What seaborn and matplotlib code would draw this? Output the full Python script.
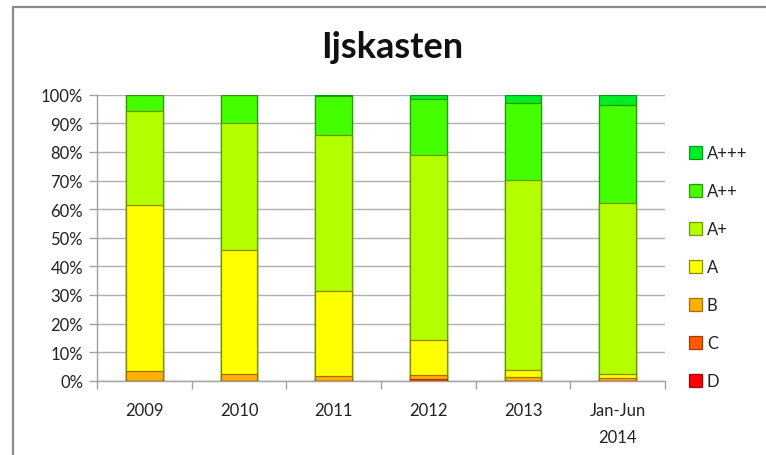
import matplotlib
matplotlib.use("Agg")
import matplotlib.pyplot as plt
import seaborn as sns
import numpy as np
import pandas as pd
from matplotlib.patches import Rectangle
from matplotlib.ticker import FixedLocator

periods = ["2009", "2010", "2011", "2012", "2013", "Jan-Jun\n2014"]
labels = ["D", "C", "B", "A", "A+", "A++", "A+++"]
D = [0.0, 0.0, 0.0, 0.0, 0.0, 0.0]
C = [0.0, 0.0, 0.0, 0.6, 0.0, 0.0]
B = [3.5, 2.3, 1.6, 1.4, 1.2, 0.8]
A = [58.0, 43.4, 29.8, 12.2, 2.6, 1.4]
Aplus = [32.9, 44.4, 54.5, 64.8, 66.4, 59.9]
A2plus = [5.6, 9.9, 13.6, 19.6, 26.9, 34.3]
A3plus = [0.0, 0.0, 0.5, 1.4, 2.9, 3.6]

series = [D, C, B, A, Aplus, A2plus, A3plus]
fills = ["#FF0000", "#FF5A00", "#FFB000", "#FFFF00", "#B4FF00", "#44FF00", "#00EE22"]
edges = ["#A00000", "#A83A00", "#A07000", "#8A8A00", "#6E9A00", "#2A9A00", "#009A16"]

sns.set_theme(style="white")
plt.rcParams['font.family'] = ['Lato', 'DejaVu Sans']

fig = plt.figure(figsize=(7.66, 4.56), dpi=100)
ax = fig.add_axes([97/766, 1-381.7/456, (665-97)/766, (381.7-95.7)/456])

arr = np.array(series)
totals = arr.sum(axis=0)
pct = arr / totals * 100
cum = np.cumsum(pct, axis=0)

for i in range(len(labels) - 1, -1, -1):
    df = pd.DataFrame({"period": periods, "value": cum[i]})
    sns.barplot(data=df, x="period", y="value", color=fills[i], width=0.39,
                edgecolor=edges[i], linewidth=0.9, label=labels[i], ax=ax,
                saturation=1, zorder=3)

handles, labs = ax.get_legend_handles_labels()
if ax.get_legend() is not None:
    ax.get_legend().remove()

ax.set_ylim(0, 100)
ax.set_xlim(-0.5, 5.5)
ax.set_yticks(np.arange(0, 101, 10))
ax.set_yticklabels([f"{v}%" for v in range(0, 101, 10)], fontsize=12, color="#222222")
ax.yaxis.grid(True, color="#B0B0B0", linewidth=1.0, zorder=0)
ax.set_axisbelow(True)
ax.set_xlabel("")
ax.set_ylabel("")
ax.tick_params(axis="y", length=6, width=1, color="#A0A0A0", left=True, direction="out", pad=4)
ax.tick_params(axis="x", which="major", length=0, labelsize=12, labelcolor="#222222", pad=15)
for t in ax.get_xticklabels():
    t.set_linespacing(1.85)
ax.xaxis.set_minor_locator(FixedLocator(np.arange(-0.5, 6.0, 1.0)))
ax.tick_params(axis="x", which="minor", length=6, width=1, color="#A0A0A0", bottom=True, direction="out")
for s in ["top", "right"]:
    ax.spines[s].set_visible(False)
for s in ["left", "bottom"]:
    ax.spines[s].set_color("#A0A0A0")
    ax.spines[s].set_linewidth(1.0)

fig.text(392/766, 1-48/456, "Ijskasten", ha="center", va="center", fontsize=26, fontweight="bold", color="#111111")

leg = fig.legend(handles, labs, loc="upper left", bbox_to_anchor=(681/766, 1-138/456),
                 frameon=False, fontsize=12, labelspacing=1.32, handlelength=0.75,
                 handleheight=0.75, handletextpad=0.3, borderpad=0)
for t in leg.get_texts():
    t.set_color("#222222")

frame = Rectangle((12.5/766, -0.05), 1.1, 1-8/456+0.05, transform=fig.transFigure,
                  fill=False, edgecolor="#8A8A8A", linewidth=1.6, clip_on=False)
fig.patches.append(frame)

fig.savefig("out.png", dpi=100)
